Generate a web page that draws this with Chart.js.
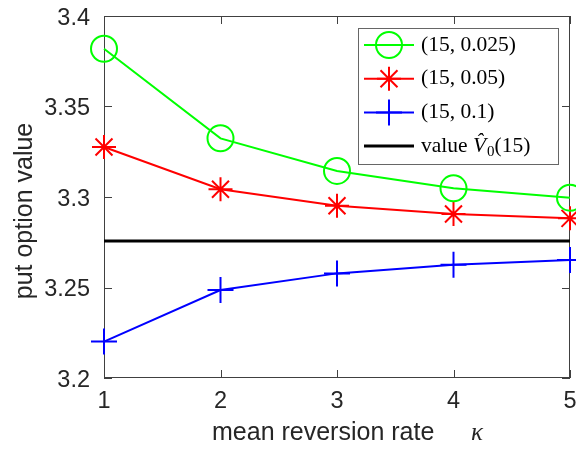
<!DOCTYPE html>
<html>
<head>
<meta charset="utf-8">
<script src="https://cdn.jsdelivr.net/npm/chart.js@4.4.1/dist/chart.umd.min.js"></script>
<style>
  html, body { margin: 0; padding: 0; background: #fff; }
</style>
</head>
<body>
<canvas id="chart" width="576" height="449"></canvas>
<script>
// values
const kappa = [1, 2, 3, 4, 5];
const put0025 = [3.3819, 3.3324, 3.3144, 3.3048, 3.2996];
const put005 = [3.3276, 3.3043, 3.2952, 3.2906, 3.2882];
const put01 = [3.2201, 3.2486, 3.2578, 3.2626, 3.2652];
const refValue = [3.2757, 3.2757, 3.2757, 3.2757, 3.2757];
const xTicks = [1, 2, 3, 4, 5];
const yTicks = [3.2, 3.25, 3.3, 3.35, 3.4];
const xTickLabels = ['1', '2', '3', '4', '5'];
const yTickLabels = ['3.2', '3.25', '3.3', '3.35', '3.4'];
const seriesLabels = ['(15, 0.025)', '(15, 0.05)', '(15, 0.1)', 'value'];

const textColor = '#262626';
const sansFont = '"Liberation Sans", Arial, sans-serif';
const serifFont = '"Liberation Serif", "Times New Roman", serif';

function points(ys) {
    return kappa.map((k, i) => ({ x: k, y: ys[i] }));
}

// axes box with inward ticks on all four sides, tick labels and axis titles
const frame = {
    id: 'frame',
    beforeDatasetsDraw(chart) {
        const { ctx, chartArea: a, scales: { x, y } } = chart;
        ctx.save();
        ctx.strokeStyle = '#404040';
        ctx.lineWidth = 1;
        ctx.strokeRect(Math.round(a.left) + 0.5, Math.round(a.top) + 0.5,
            Math.round(a.width) - 1, Math.round(a.height) - 1);
        const tl = 8;
        ctx.beginPath();
        xTicks.forEach(v => {
            const px = Math.round(x.getPixelForValue(v)) + 0.5;
            ctx.moveTo(px, a.bottom); ctx.lineTo(px, a.bottom - tl);
            ctx.moveTo(px, a.top); ctx.lineTo(px, a.top + tl);
        });
        yTicks.forEach(v => {
            const py = Math.round(y.getPixelForValue(v)) + 0.5;
            ctx.moveTo(a.left, py); ctx.lineTo(a.left + tl, py);
            ctx.moveTo(a.right, py); ctx.lineTo(a.right - tl, py);
        });
        ctx.stroke();

        // tick labels
        ctx.fillStyle = textColor;
        ctx.font = '23.5px ' + sansFont;
        ctx.textBaseline = 'alphabetic';
        ctx.textAlign = 'center';
        xTicks.forEach((v, i) => {
            ctx.fillText(xTickLabels[i], x.getPixelForValue(v), a.bottom + 30);
        });
        ctx.textAlign = 'right';
        yTicks.forEach((v, i) => {
            ctx.fillText(yTickLabels[i], a.left - 14, y.getPixelForValue(v) + 8.5);
        });

        // axis titles
        ctx.font = '25px ' + sansFont;
        ctx.textAlign = 'left';
        ctx.fillText('mean reversion rate', 212, 440);
        ctx.font = 'italic 25px ' + serifFont;
        ctx.fillText('\u03BA', 471, 440);

        ctx.translate(25, 211);
        ctx.rotate(-Math.PI / 2);
        ctx.font = '25px ' + sansFont;
        ctx.textAlign = 'center';
        ctx.textBaseline = 'middle';
        ctx.fillText('put option value', 0, 0);
        ctx.restore();
    }
};

// MATLAB-style legend: line sample with the marker on it, serif text
const legendBox = {
    id: 'legendBox',
    afterDraw(chart) {
        const ctx = chart.ctx;
        const bx = 358, by = 28, bw = 200, bh = 136;
        ctx.save();
        ctx.fillStyle = '#fff';
        ctx.fillRect(bx, by, bw, bh);
        ctx.strokeStyle = '#666';
        ctx.lineWidth = 1;
        ctx.strokeRect(bx + 0.5, by + 0.5, bw, bh);

        chart.data.datasets.forEach((ds, i) => {
            const cy = 45 + i * 33.7;
            ctx.strokeStyle = ds.borderColor;
            ctx.lineWidth = ds.borderWidth;
            ctx.beginPath();
            ctx.moveTo(364, cy);
            ctx.lineTo(414, cy);
            ctx.stroke();
            if (ds.pointStyle) {
                ctx.strokeStyle = ds.pointBorderColor;
                ctx.fillStyle = 'rgba(0,0,0,0)';
                ctx.lineWidth = ds.pointBorderWidth;
                Chart.helpers.drawPoint(ctx, {
                    pointStyle: ds.pointStyle, radius: ds.pointRadius,
                    rotation: 0, borderWidth: ds.pointBorderWidth
                }, 389, cy);
            }
            ctx.fillStyle = '#000';
            ctx.textBaseline = 'middle';
            ctx.textAlign = 'left';
            ctx.font = '21.5px ' + serifFont;
            if (i < 3) {
                ctx.fillText(ds.label, 421, cy);
            } else {
                let tx = 421;
                ctx.fillText(ds.label + ' ', tx, cy);
                tx += ctx.measureText(ds.label + ' ').width;
                ctx.font = 'italic 21.5px ' + serifFont;
                ctx.fillText('V\u0302', tx, cy);
                tx += ctx.measureText('V').width + 1;
                ctx.font = '15px ' + serifFont;
                ctx.fillText('0', tx, cy + 6);
                tx += ctx.measureText('0').width;
                ctx.font = '21.5px ' + serifFont;
                ctx.fillText('(15)', tx, cy);
            }
        });
        ctx.restore();
    }
};

new Chart(document.getElementById('chart'), {
    type: 'line',
    data: {
        datasets: [
            {
                label: seriesLabels[0],
                data: points(put0025),
                borderColor: '#00ff00',
                borderWidth: 2,
                pointStyle: 'circle',
                pointRadius: 13,
                pointBorderColor: '#00ff00',
                pointBackgroundColor: 'rgba(0,0,0,0)',
                pointBorderWidth: 2
            },
            {
                label: seriesLabels[1],
                data: points(put005),
                borderColor: '#ff0000',
                borderWidth: 2,
                pointStyle: 'star',
                pointRadius: 12,
                pointBorderColor: '#ff0000',
                pointBackgroundColor: 'rgba(0,0,0,0)',
                pointBorderWidth: 2
            },
            {
                label: seriesLabels[2],
                data: points(put01),
                borderColor: '#0000ff',
                borderWidth: 2,
                pointStyle: 'cross',
                pointRadius: 13,
                pointBorderColor: '#0000ff',
                pointBackgroundColor: 'rgba(0,0,0,0)',
                pointBorderWidth: 2
            },
            {
                label: seriesLabels[3],
                data: points(refValue),
                borderColor: '#000000',
                borderWidth: 3,
                pointStyle: false,
                pointRadius: 0
            }
        ]
    },
    options: {
        responsive: false,
        animation: false,
        devicePixelRatio: 1,
        clip: false,
        layout: { autoPadding: false, padding: { top: 16, right: 6, left: 0, bottom: 0 } },
        plugins: {
            legend: { display: false },
            tooltip: { enabled: false }
        },
        scales: {
            x: {
                type: 'linear',
                min: 1,
                max: 5,
                afterBuildTicks: scale => { scale.ticks = xTicks.map(v => ({ value: v })); },
                afterFit: scale => { scale.height = 71; },
                grid: { display: false, drawTicks: false },
                border: { display: false },
                ticks: { display: false }
            },
            y: {
                type: 'linear',
                min: 3.2,
                max: 3.4,
                afterBuildTicks: scale => { scale.ticks = yTicks.map(v => ({ value: v })); },
                afterFit: scale => { scale.width = 104; },
                grid: { display: false, drawTicks: false },
                border: { display: false },
                ticks: { display: false }
            }
        }
    },
    plugins: [frame, legendBox]
});
</script>
</body>
</html>
